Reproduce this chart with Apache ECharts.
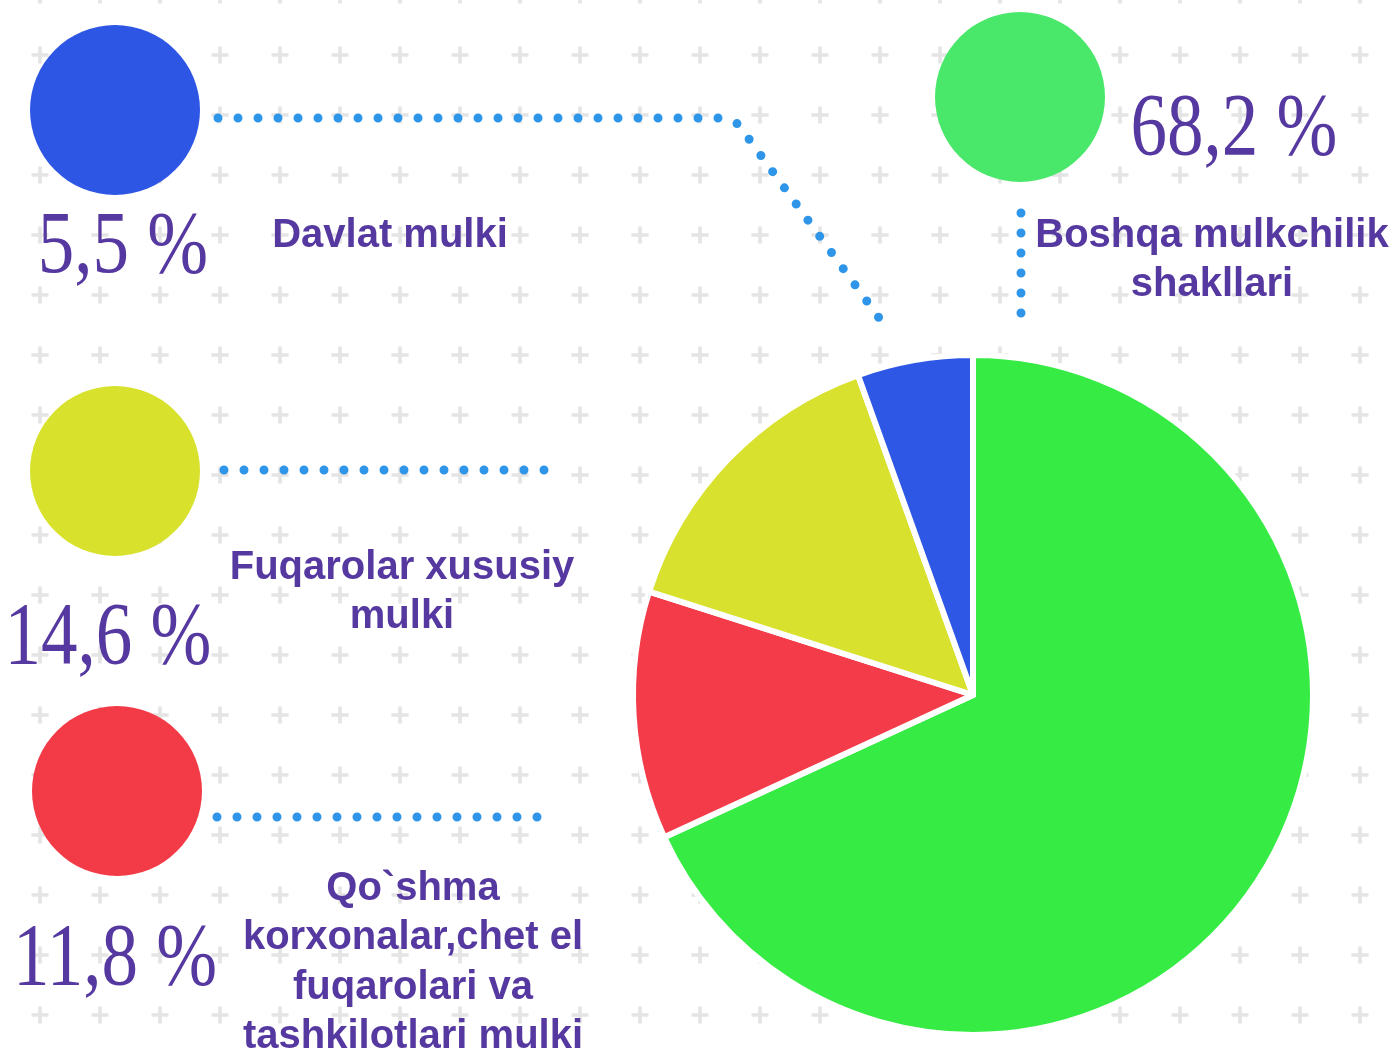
<!DOCTYPE html>
<html>
<head>
<meta charset="utf-8">
<script src="https://cdn.jsdelivr.net/npm/echarts@6/dist/echarts.min.js"></script>
<style>
html,body{margin:0;padding:0;width:1393px;height:1054px;overflow:hidden;background:#fff;}
#bg{position:absolute;left:0;top:0;width:1393px;height:1054px;
background-image:url("data:image/svg+xml;utf8,<svg xmlns='http://www.w3.org/2000/svg' width='60' height='60'><path d='M30 21.5 V38.5 M21.5 30 H38.5' stroke='%23e4e4e4' stroke-width='3.6'/></svg>");
background-size:60px 60px;background-position:10px 25px;}
#chart{position:absolute;left:0;top:0;width:1393px;height:1054px;}
</style>
</head>
<body>
<div id="bg"></div>
<div id="chart"></div>
<script>
// ---- data ----
const categories = ['Boshqa mulkchilik shakllari', 'Qo`shma korxonalar,chet el fuqarolari va tashkilotlari mulki', 'Fuqarolar xususiy mulki', 'Davlat mulki'];
const values = [68.2, 11.8, 14.6, 5.5];
const labelTexts = ['Boshqa mulkchilik\nshakllari', 'Qo`shma\nkorxonalar,chet el\nfuqarolari va\ntashkilotlari mulki', 'Fuqarolar xususiy\nmulki', 'Davlat mulki'];
const pieColors = ['#36EC44', '#F43B49', '#D8E22E', '#2F57E6'];
const legendColors = ['#4AE86A', '#F33B48', '#D8E22D', '#2E56E5'];

const purple = '#5639A0';
const dotBlue = '#2E95E8';
const fmt = v => v.toFixed(1).replace('.', ',') + ' %';

// layout of legend blocks (decoration)
const blocks = [
  {circle:[1020, 97], pct:[1234, 131], label:[1212, 211], line:[[1021,213],[1021,316]]},
  {circle:[117, 791], pct:[115, 961], label:[413, 864], line:[[217,817],[540,817]]},
  {circle:[115, 471], pct:[108, 640], label:[402, 543], line:[[224,470],[547,470]]},
  {circle:[115, 110], pct:[123, 249], label:[390, 211], line:[[218,118],[722,118],[738,124],[882,322]]}
];

const graphics = [];
blocks.forEach((b, i) => {
  graphics.push({type:'circle', shape:{cx:b.circle[0], cy:b.circle[1], r:85}, style:{fill:legendColors[i]}, silent:true});
  graphics.push({type:'text', x:b.pct[0], y:b.pct[1], scaleX:0.83, silent:true,
    style:{text:fmt(values[i]), x:0, y:0, fill:purple, font:'88px "Liberation Serif", serif', textAlign:'center', textVerticalAlign:'middle'}});
  graphics.push({type:'text', x:b.label[0], y:b.label[1], silent:true,
    style:{text:labelTexts[i], x:0, y:0, fill:purple, font:'bold 40px "Liberation Sans", Arial, sans-serif', lineHeight:49.5, textAlign:'center', textVerticalAlign:'top'}});
  graphics.push({type:'polyline', shape:{points:b.line}, silent:true,
    style:{stroke:dotBlue, lineWidth:9, lineCap:'round', lineJoin:'round', lineDash:[0,20], fill:null}});
});

const chart = echarts.init(document.getElementById('chart'), null, {renderer:'canvas'});
chart.setOption({
  backgroundColor:'transparent',
  animation:false,
  graphic: graphics,
  series:[{
    type:'pie',
    center:[973, 695],
    radius:340,
    startAngle:90,
    clockwise:true,
    silent:true,
    label:{show:false},
    labelLine:{show:false},
    itemStyle:{borderColor:'#ffffff', borderWidth:6},
    data: categories.map((c, i) => ({name:c, value:values[i], itemStyle:{color:pieColors[i]}}))
  }]
});
</script>
</body>
</html>
